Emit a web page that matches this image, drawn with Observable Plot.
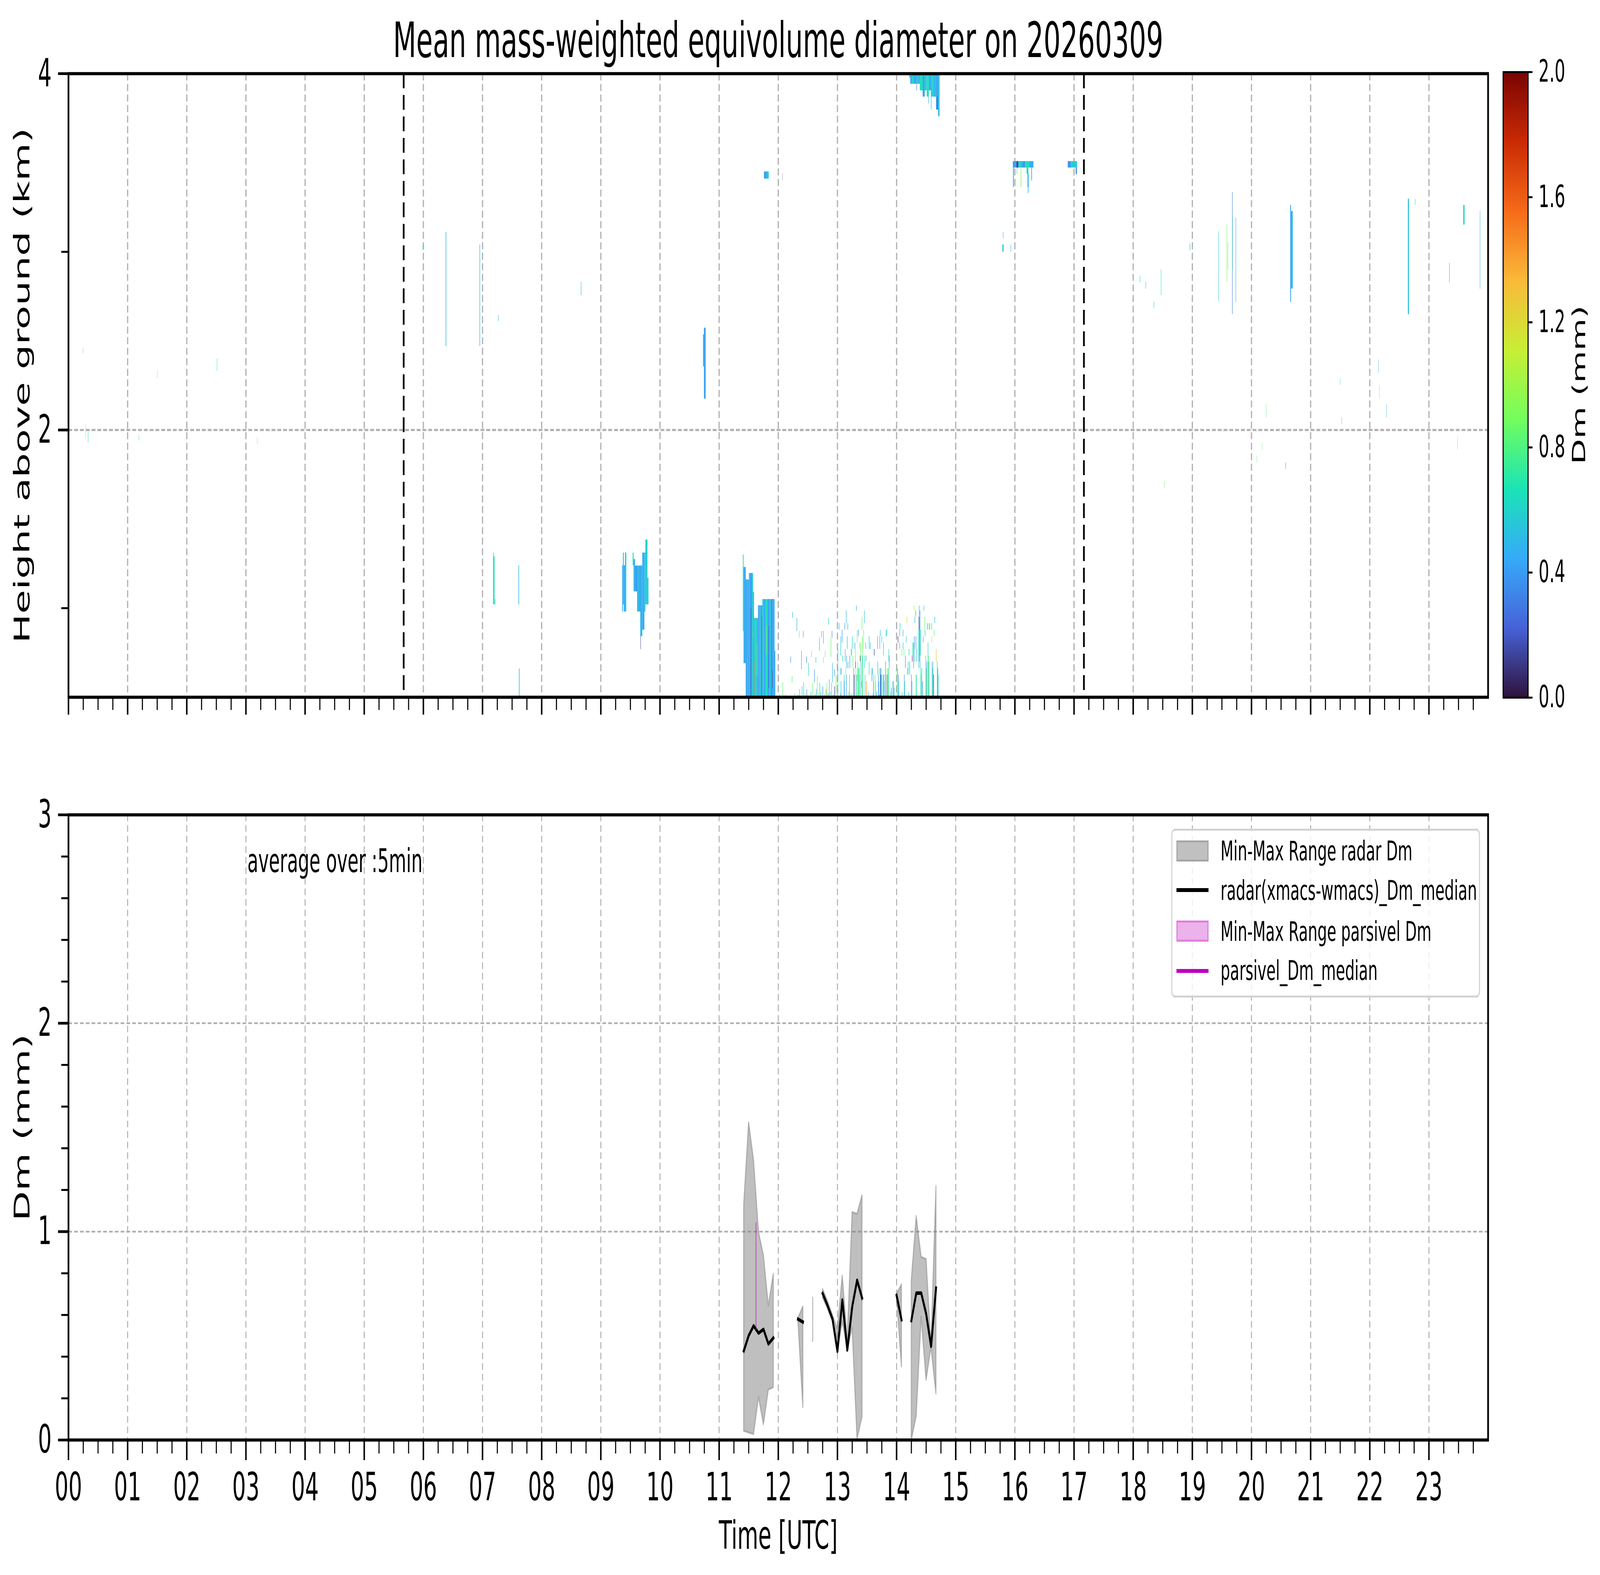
<!DOCTYPE html>
<html>
<head>
<meta charset="utf-8">
<script src="https://cdn.jsdelivr.net/npm/d3@7"></script>
<script src="https://cdn.jsdelivr.net/npm/@observablehq/plot@0.6"></script>
<style>
html, body { margin: 0; padding: 0; background: #fff; overflow: hidden; }
#wrap { position: relative; overflow: hidden; }
#root { position: absolute; left: 0; top: 0; width: 7442px; height: 4031px; overflow: hidden; font-family: "DejaVu Sans", sans-serif; color: #000; transform-origin: 0 0; }
.abs { position: absolute; }
#title { left: 318px; width: 6603px; top: 40px; font-size: 125px; line-height: 125px; text-align: center; white-space: nowrap; }
#legend { left: 5448px; top: 2121px; width: 1436px; height: 432px; box-sizing: border-box; border: 5px solid #d2d2d2; border-radius: 16px; background: rgba(255,255,255,0.8); }
.sw { position: absolute; box-sizing: border-box; }
.lt { position: absolute; font-size: 70px; line-height: 80px; white-space: nowrap; }
svg { overflow: visible; }
</style>
</head>
<body>
<div id="wrap">
<div id="root">
  <div id="topPlot" class="abs" style="left:0;top:150px"></div>
  <div id="cbarPlot" class="abs" style="left:6900px;top:150px"></div>
  <div id="botPlot" class="abs" style="left:0;top:2000px"></div>
  <div id="title" class="abs">Mean mass-weighted equivolume diameter on 20260309</div>
  <div id="legend" class="abs"></div>
  <div class="sw" style="left:5472px;top:2151px;width:149px;height:54px;background:#c0c0c0;border:5px solid #a6a6a6"></div>
  <div class="sw" style="left:5472px;top:2273px;width:149px;height:10px;background:#000"></div>
  <div class="sw" style="left:5472px;top:2356px;width:149px;height:54px;background:#ecb2ec;border:5px solid #df7ddf"></div>
  <div class="sw" style="left:5472px;top:2480px;width:149px;height:10px;background:#bf00bf"></div>
  <div class="lt" style="left:5677px;top:2138px">Min-Max Range radar Dm</div>
  <div class="lt" style="left:5677px;top:2239px">radar(xmacs-wmacs)_Dm_median</div>
  <div class="lt" style="left:5677px;top:2344px">Min-Max Range parsivel Dm</div>
  <div class="lt" style="left:5677px;top:2444px">parsivel_Dm_median</div>
</div>
</div>
<script>
// ---------------- tick values ----------------
const majorHours = [0,1,2,3,4,5,6,7,8,9,10,11,12,13,14,15,16,17,18,19,20,21,22,23];
const minorHours = majorHours.flatMap(h => [h + 0.25, h + 0.5, h + 0.75]);
const heightMajor = [2, 4];
const heightMinor = [1, 3];
const heightGrid = [2];
const dmMajor = [0, 1, 2, 3];
const dmMinor = [0.2,0.4,0.6,0.8,1.2,1.4,1.6,1.8,2.2,2.4,2.6,2.8];
const dmGrid = [1, 2];
const cbarTicks = [0, 0.4, 0.8, 1.2, 1.6, 2.0];
const eventTimes = [5.667, 17.167];

// ---------------- bottom panel: 5-min radar Dm statistics (hours UTC, mm) ----------------
const radarTime   = [11.417,11.5,11.583,11.667,11.75,11.833,11.917,12.0,12.333,12.417,12.5,12.583,12.667,12.75,12.833,12.917,13.0,13.083,13.167,13.25,13.333,13.417,13.5,14.0,14.083,14.167,14.25,14.333,14.417,14.5,14.583,14.667,14.75];
const radarMedian = [0.428,0.501,0.548,0.513,0.531,0.461,0.490,null,0.580,0.566,null,null,null,0.703,0.645,0.580,0.426,0.672,0.432,0.640,0.767,0.681,null,0.694,0.577,null,0.573,0.705,0.705,0.605,0.450,0.729,null];
const radarMax    = [1.128,1.524,1.343,0.998,0.886,0.645,0.797,null,0.585,0.640,null,0.683,null,0.724,0.667,0.600,0.531,0.789,0.480,1.093,1.085,1.174,null,0.700,0.746,null,0.765,1.074,0.878,0.868,0.450,1.217,null];
const radarMin    = [0.043,0.035,0.027,0.206,0.074,0.241,0.252,null,0.575,0.157,null,0.474,null,0.683,0.630,0.570,0.426,0.569,0.432,0.537,0.005,0.111,null,0.690,0.352,null,0.000,0.114,0.591,0.287,0.445,0.222,null];
const parsivelTime   = [11.625];
const parsivelMin    = [0.53];
const parsivelMax    = [1.04];
const parsivelMedian = [null];

// ---------------- top panel: radar Dm (time h, height km, Dm mm) ----------------
// [t0, t1, h0, h1, Dm]
const rainBlock = [
  [11.403,11.415,0.87,1.30,0.62],[11.415,11.452,0.69,1.23,0.46],[11.452,11.47,0.50,1.16,0.40],
  [11.47,11.49,0.50,1.16,0.55],[11.49,11.506,0.50,1.16,0.42],[11.506,11.53,0.50,1.196,0.50],
  [11.53,11.55,0.50,1.196,0.40],[11.55,11.575,0.50,1.196,0.56],[11.575,11.591,0.50,1.09,0.45],
  [11.591,11.61,0.50,0.944,0.58],[11.61,11.635,0.50,0.944,0.66],[11.635,11.659,0.50,0.944,0.48],
  [11.659,11.68,0.50,1.015,0.42],[11.68,11.705,0.50,1.015,0.55],[11.705,11.732,0.50,1.015,0.40],
  [11.732,11.76,0.50,1.05,0.58],[11.76,11.79,0.50,1.05,0.44],[11.79,11.82,0.50,1.05,0.64],
  [11.82,11.85,0.50,1.05,0.42],[11.85,11.88,0.50,1.05,0.54],[11.88,11.91,0.50,1.05,0.38],
  [11.91,11.939,0.50,1.05,0.48],[11.939,11.951,0.50,0.76,0.42],
  [11.535,11.54,0.50,1.00,0.14],[11.72,11.725,0.50,0.95,0.16],[11.84,11.845,0.55,0.90,0.12],
  [11.60,11.605,0.50,0.70,1.55],[11.57,11.575,0.83,0.87,1.25],[11.64,11.645,0.62,0.80,0.95],
  [11.80,11.805,0.74,0.90,1.0],[11.90,11.905,0.55,0.65,0.12]
];
const upperCells = [
  [14.216,14.234,3.976,4.0,0.50],[14.234,14.262,3.942,4.0,0.42],[14.262,14.29,3.942,4.0,0.60],
  [14.29,14.338,3.942,4.0,0.46],[14.338,14.373,3.942,4.0,0.55],[14.338,14.345,3.905,3.942,0.30],
  [14.373,14.394,3.942,4.0,0.40],[14.394,14.443,3.905,4.0,0.66],[14.443,14.477,3.87,4.0,0.42],
  [14.477,14.512,3.905,4.0,0.58],[14.512,14.547,3.87,4.0,0.66],[14.547,14.582,3.905,4.0,0.45],
  [14.582,14.617,3.87,4.0,0.58],[14.617,14.669,3.87,4.0,0.52],[14.669,14.704,3.797,4.0,0.42],
  [14.704,14.728,3.76,4.0,0.50],[14.54,14.547,3.832,3.87,0.38],[14.582,14.59,3.797,3.87,0.52],
  [14.686,14.695,3.797,3.87,0.15],
  [15.967,16.026,3.472,3.508,0.42],[15.97,15.985,3.362,3.472,0.55],[16.026,16.06,3.472,3.508,0.15],
  [16.035,16.04,3.435,3.472,0.36],[16.06,16.106,3.472,3.508,0.60],[16.10,16.11,3.362,3.472,0.95],
  [16.106,16.14,3.472,3.508,0.48],[16.14,16.175,3.472,3.508,0.38],[16.175,16.252,3.472,3.508,0.64],
  [16.20,16.23,3.435,3.472,0.64],[16.215,16.235,3.362,3.435,0.50],[16.22,16.23,3.328,3.362,0.50],
  [16.252,16.315,3.472,3.508,0.45],[16.28,16.29,3.40,3.472,0.36],
  [16.896,16.948,3.472,3.508,0.38],[16.948,17.052,3.472,3.508,0.58],[17.03,17.05,3.435,3.472,0.36],
  [15.80,15.806,3.075,3.11,0.42],[15.79,15.81,3.0,3.04,0.50],[15.93,15.937,3.0,3.04,0.52],
  [12.07,12.073,3.40,3.44,0.15],[11.76,11.80,3.41,3.45,0.40],[11.80,11.84,3.41,3.45,0.55],
  [0.246,0.252,2.43,2.46,0.85],[0.29,0.295,1.95,2.03,0.85],[0.33,0.336,1.93,1.99,0.64],
  [1.19,1.195,1.94,1.97,0.64],[1.50,1.505,2.29,2.33,0.85],[2.51,2.516,2.33,2.40,0.75],
  [3.19,3.195,1.92,1.96,0.85],
  [5.99,5.996,3.005,3.04,0.60],[6.378,6.388,2.47,3.11,0.52],[6.952,6.96,2.47,3.04,0.50],
  [7.265,7.272,2.61,2.645,0.50],[8.665,8.672,2.755,2.83,0.48],
  [10.729,10.745,2.356,2.536,0.50],[10.745,10.774,2.175,2.573,0.42],
  [7.182,7.192,1.02,1.311,0.55],[7.192,7.205,1.02,1.29,0.66],[7.21,7.217,1.02,1.05,0.55],
  [7.61,7.62,1.02,1.238,0.50],[7.618,7.628,0.50,0.66,0.50],
  [9.362,9.375,0.98,1.24,0.42],[9.375,9.39,1.02,1.311,0.55],[9.39,9.41,0.98,1.24,0.45],
  [9.41,9.432,0.98,1.311,0.58],[9.54,9.555,1.24,1.311,0.64],[9.555,9.58,1.093,1.275,0.48],
  [9.58,9.615,1.093,1.238,0.40],[9.615,9.651,0.98,1.238,0.50],[9.651,9.668,0.98,1.238,0.38],
  [9.668,9.703,0.842,1.238,0.50],[9.672,9.678,0.769,0.842,0.12],[9.703,9.738,0.878,1.311,0.44],
  [9.738,9.755,0.98,1.311,0.54],[9.755,9.79,1.02,1.384,0.58],[9.79,9.807,1.02,1.17,0.50],
  [18.116,18.122,2.827,2.865,0.50],[18.211,18.217,2.791,2.831,0.50],[18.349,18.355,2.683,2.72,0.50],
  [18.47,18.476,2.756,2.90,0.68],[18.526,18.532,1.673,1.71,0.85],[18.958,18.966,3.008,3.045,0.55],
  [19.441,19.447,2.72,3.115,0.58],[19.583,19.59,2.83,3.152,0.92],[19.60,19.606,2.90,3.05,0.85],
  [19.675,19.682,2.649,3.335,0.32],[19.682,19.686,2.90,3.20,0.62],[19.734,19.74,2.718,3.19,0.42],
  [20.088,20.093,1.817,1.855,0.85],[20.179,20.184,1.889,1.927,0.88],[20.248,20.253,2.069,2.145,0.85],
  [20.576,20.581,1.78,1.817,0.30],[20.657,20.67,2.718,3.262,0.42],[20.67,20.70,2.793,3.228,0.52],
  [21.499,21.504,2.252,2.29,0.62],[21.525,21.53,2.031,2.069,0.62],[22.146,22.151,2.321,2.395,0.48],
  [22.163,22.168,2.176,2.252,0.85],[22.284,22.289,2.069,2.144,0.50],[22.646,22.664,2.649,3.297,0.52],
  [22.767,22.772,3.262,3.297,0.42],[23.345,23.352,2.827,2.937,0.54],[23.483,23.488,1.889,1.962,0.85],
  [23.582,23.604,3.152,3.262,0.60],[23.863,23.869,2.791,3.228,0.50]
];
// thin radar columns (one gate wide): [t, h0, h1, Dm]
const gateDt = 0.008;
const specklesEarly = [
  [12.073,0.500,0.582,0.85],[12.207,0.692,0.728,0.38],[12.239,0.944,0.979,0.52],[12.231,0.582,0.618,0.80],
  [12.312,0.871,0.944,0.52],[12.353,0.834,0.871,0.85],[12.390,0.655,0.761,0.52],[12.421,0.834,0.871,0.52],
  [12.426,0.500,0.582,0.64],[12.475,0.692,0.728,0.28],[12.511,0.618,0.692,0.64],[12.560,0.724,0.761,0.85],
  [12.609,0.582,0.655,0.38],[12.633,0.692,0.724,0.64],[12.657,0.500,0.618,0.85],[12.694,0.761,0.834,0.52],
  [12.730,0.834,0.871,0.52],[12.760,0.692,0.724,0.85],[12.762,0.801,0.871,0.52],[12.791,0.724,0.761,0.85],
  [12.804,0.500,0.545,1.50],[12.845,0.907,0.944,0.64],[12.889,0.724,0.834,0.85],[12.906,0.834,0.871,0.38],
  [12.913,0.582,0.692,0.52],[12.950,0.618,0.655,0.38],[12.974,0.500,0.618,0.85],
  [12.02,0.500,0.515,0.64],[12.12,0.500,0.512,0.52],[12.27,0.500,0.520,0.85],[12.33,0.500,0.515,0.64],
  [12.45,0.500,0.520,0.85],[12.50,0.500,0.512,0.52],[12.55,0.500,0.530,0.64],[12.62,0.500,0.515,0.52],
  [12.68,0.500,0.520,0.85],[12.72,0.500,0.530,0.64],[12.78,0.500,0.515,0.52],[12.84,0.500,0.520,0.38],
  [12.88,0.500,0.530,0.64],[12.93,0.500,0.512,0.15],
  [12.36,0.500,0.545,0.52],[12.40,0.500,0.560,0.64],[12.48,0.500,0.545,0.40],[12.58,0.500,0.580,0.85],
  [12.64,0.500,0.545,0.52],[12.70,0.500,0.580,0.64],[12.75,0.500,0.560,0.40],[12.82,0.500,0.580,0.85],
  [12.86,0.500,0.600,0.52],[12.90,0.500,0.580,0.64],[12.95,0.500,0.560,0.12]
];
const specklesLate = [
  [13.004,0.50,0.770,0.60],[13.027,0.878,0.915,0.52],[13.055,0.733,0.841,0.52],[13.055,0.626,0.662,0.52],
  [13.061,0.626,0.662,0.52],[13.058,0.50,0.589,0.52],[13.077,0.806,0.878,0.40],[13.083,0.699,0.733,0.64],
  [13.110,0.50,0.626,0.64],[13.116,0.50,0.589,0.40],[13.122,0.878,0.915,0.40],[13.130,0.699,0.770,0.52],
  [13.138,0.626,0.662,0.85],[13.147,0.915,0.986,0.52],[13.152,0.662,0.733,0.52],[13.152,0.50,0.626,0.40],
  [13.164,0.770,0.841,0.52],[13.173,0.878,0.915,0.52],[13.176,0.662,0.699,0.40],[13.201,0.50,0.626,0.64],
  [13.207,0.662,0.733,0.40],[13.231,0.733,0.770,0.64],[13.237,0.733,0.770,0.64],[13.249,0.770,0.841,0.64],
  [13.259,0.662,0.733,0.85],[13.273,0.50,0.662,0.40],[13.283,0.50,0.626,0.12],[13.293,0.770,0.806,0.40],
  [13.300,0.699,0.770,0.85],[13.304,0.662,0.699,0.12],[13.310,0.50,0.662,0.85],[13.318,0.986,1.013,0.40],
  [13.319,0.50,0.626,0.64],[13.332,0.806,0.878,0.85],[13.334,0.589,0.626,1.25],[13.340,0.50,0.699,0.85],
  [13.346,0.50,0.662,0.64],[13.352,0.841,0.878,0.40],[13.358,0.50,0.662,0.85],[13.368,0.50,0.662,0.64],
  [13.373,0.770,0.806,0.85],[13.376,0.50,0.626,0.85],[13.382,0.699,0.733,0.12],[13.392,0.699,0.806,0.85],
  [13.397,0.50,0.699,0.40],[13.404,0.553,0.589,1.45],[13.413,0.878,0.951,0.85],[13.419,0.50,0.841,0.85],
  [13.425,0.50,0.733,0.64],[13.433,0.770,0.841,1.00],[13.441,0.841,0.878,0.85],[13.453,0.915,0.986,0.52],
  [13.458,0.662,0.733,0.64],[13.465,0.50,0.626,0.64],[13.475,0.770,0.806,0.52],[13.482,0.699,0.733,0.52],
  [13.489,0.50,0.589,1.45],
  [13.534,0.770,0.841,0.52],[13.534,0.626,0.699,0.64],[13.555,0.770,0.806,0.52],[13.580,0.589,0.662,0.40],
  [13.595,0.626,0.662,0.52],[13.607,0.50,0.626,0.64],[13.615,0.50,0.589,0.85],[13.620,0.733,0.770,0.12],
  [13.635,0.589,0.626,0.85],[13.643,0.50,0.589,0.52],[13.676,0.770,0.841,0.45],[13.679,0.626,0.699,0.52],
  [13.691,0.50,0.626,0.40],[13.697,0.50,0.589,0.40],[13.704,0.626,0.662,0.85],[13.714,0.770,0.841,0.52],
  [13.722,0.841,0.878,0.52],[13.722,0.50,0.662,0.40],[13.728,0.50,0.626,0.12],[13.734,0.50,0.662,0.40],
  [13.741,0.50,0.626,0.64],[13.748,0.806,0.841,0.64],[13.758,0.50,0.626,0.64],[13.776,0.733,0.806,0.52],
  [13.782,0.50,0.626,0.12],[13.788,0.50,0.589,0.40],[13.809,0.626,0.699,0.40],[13.816,0.50,0.626,0.12],
  [13.821,0.841,0.878,0.64],[13.827,0.841,0.878,0.64],[13.837,0.50,0.662,0.85],[13.845,0.50,0.626,0.40],
  [13.855,0.50,0.662,0.64],[13.867,0.699,0.770,0.64],[13.867,0.50,0.662,0.85],[13.873,0.662,0.733,0.40],
  [13.910,0.50,0.553,0.40],[13.934,0.50,0.589,0.52],[13.946,0.50,0.589,0.52],[13.958,0.50,0.553,0.52],
  [14.006,0.50,0.662,0.85],[14.015,0.50,0.662,0.64],[14.022,0.806,0.841,0.12],[14.031,0.50,0.626,0.40],
  [14.037,0.50,0.589,0.64],[14.049,0.841,0.878,0.52],[14.049,0.770,0.806,0.52],[14.057,0.878,0.915,0.64],
  [14.088,0.733,0.770,0.85],[14.107,0.770,0.806,0.52],[14.107,0.841,0.878,0.52],[14.122,0.733,0.770,0.85],
  [14.128,0.50,0.626,0.40],[14.136,0.50,0.589,0.64],[14.146,0.662,0.733,0.40],[14.160,0.806,0.841,0.64],
  [14.173,0.915,0.951,1.05],[14.182,0.626,0.662,0.64],[14.194,0.626,0.699,0.64],[14.209,0.733,0.770,0.64],
  [14.219,0.626,0.699,0.40],[14.249,0.50,0.626,0.40],[14.257,0.50,0.589,0.52],[14.263,0.699,0.733,0.12],
  [14.267,0.733,0.806,0.64],[14.285,0.662,0.806,0.40],[14.294,0.986,1.013,1.00],[14.294,0.699,0.806,0.64],
  [14.297,0.770,0.841,0.40],[14.307,0.915,0.951,0.52],[14.322,0.951,0.986,0.52],[14.325,0.770,0.841,0.40],
  [14.325,0.50,0.626,0.85],[14.334,0.50,0.626,0.64],[14.340,0.699,0.770,0.40],[14.370,0.662,0.878,0.64],
  [14.376,0.878,0.951,0.12],[14.382,0.699,1.013,0.52],[14.388,0.733,0.915,0.85],[14.394,0.662,0.986,0.40],
  [14.400,0.733,0.878,0.64],[14.406,0.50,0.662,0.64],[14.415,0.50,0.626,0.85],[14.425,0.50,0.662,0.64],
  [14.437,0.50,0.589,0.40],[14.449,0.806,0.841,0.52],[14.461,0.986,1.013,0.64],[14.473,0.878,0.951,0.85],
  [14.479,0.841,0.878,0.64],[14.491,0.50,0.733,0.64],[14.500,0.50,0.662,0.85],[14.509,0.50,0.699,0.40],
  [14.519,0.878,0.915,0.40],[14.529,0.50,0.806,0.64],[14.536,0.50,0.733,0.85],[14.546,0.878,0.915,0.85],
  [14.546,0.50,0.699,0.40],[14.558,0.878,0.915,0.64],[14.592,0.878,0.915,0.64],[14.592,0.806,0.841,1.05],
  [14.600,0.50,0.699,0.40],[14.609,0.50,0.662,0.64],[14.618,0.50,0.699,0.85],[14.624,0.50,0.626,0.12],
  [14.633,0.841,0.878,0.85],[14.643,0.915,0.951,0.52],[14.667,0.699,0.770,1.25],[14.685,0.50,0.699,0.64],
  [14.694,0.50,0.662,0.40],[14.703,0.50,0.626,0.64],
  [13.00,0.500,0.530,0.52],[13.05,0.500,0.520,0.64],[13.19,0.500,0.530,0.85],[13.23,0.500,0.520,0.64],
  [13.52,0.500,0.530,0.52],[13.60,0.500,0.520,0.64],[13.66,0.500,0.530,0.52],[13.71,0.500,0.515,0.38],
  [13.78,0.500,0.530,0.64],[13.90,0.500,0.530,0.64],[14.09,0.500,0.530,0.64],[14.20,0.500,0.530,0.52]
];

// ---------------- styling ----------------
const turboStops = ["#30123b","#4662d7","#36aaf9","#1ae4b6","#72fe5e","#c8ef34","#faba39","#f66b19","#ca2a04","#7a0403"];
const colorScale = {type: "linear", domain: [0, 2], interpolate: d3.piecewise(d3.interpolateRgb, turboStops), clamp: true};
const FONT = "DejaVu Sans";
const fmtHour = d => String(d).padStart(2, "0");
const fmtInt = d => String(d);
const blank = () => "";

// map the 7442×4031 design onto the actual window
(function fit() {
  const W = window.innerWidth || 7442, H = window.innerHeight || 4031;
  const sx = W / 7442, sy = H / 4031;
  document.getElementById("root").style.transform = `scale(${sx}, ${sy})`;
  const wrap = document.getElementById("wrap");
  wrap.style.width = W + "px";
  wrap.style.height = H + "px";
})();

// ---------------- top panel ----------------
const cells = rainBlock.concat(upperCells);
const speckles = specklesEarly.concat(specklesLate);
const topChart = Plot.plot({
  width: 6960, height: 1710,
  marginLeft: 318, marginRight: 39, marginTop: 38, marginBottom: 76,
  style: {fontFamily: FONT, background: "transparent", color: "black"},
  x: {domain: [0, 24]},
  y: {domain: [0.5, 4]},
  color: colorScale,
  marks: [
    Plot.gridX({ticks: majorHours, stroke: "#b0b0b0", strokeOpacity: 1, strokeWidth: 5.5, strokeDasharray: "18,9"}),
    Plot.gridY({ticks: heightGrid, stroke: "#b0b0b0", strokeOpacity: 1, strokeWidth: 5.5, strokeDasharray: "18,9"}),
    Plot.rect(cells, {x1: d => d[0], x2: d => d[1], y1: d => d[2], y2: d => d[3], fill: d => d[4], clip: true}),
    Plot.rect(speckles, {x1: d => d[0], x2: d => d[0] + gateDt, y1: d => d[1], y2: d => d[2], fill: d => d[3], clip: true}),
    Plot.ruleX(eventTimes, {stroke: "black", strokeWidth: 8, strokeDasharray: "38,17"}),
    Plot.frame({stroke: "black", strokeWidth: 8}),
    Plot.axisX({ticks: majorHours, tickSize: 45, tickFormat: blank, strokeWidth: 7, label: null}),
    Plot.axisX({ticks: minorHours, tickSize: 33, tickFormat: blank, strokeWidth: 5, label: null}),
    Plot.axisY({ticks: heightMajor, tickSize: 48, tickPadding: 30, tickFormat: fmtInt, fontSize: 100, strokeWidth: 7, label: null}),
    Plot.axisY({ticks: heightMinor, tickSize: 33, tickFormat: blank, strokeWidth: 5, label: null}),
    Plot.text(["Height above ground (km)"], {text: d => d, frameAnchor: "left", dx: -214, rotate: -90, textAnchor: "middle", lineAnchor: "middle", fontSize: 100})
  ]
});
document.getElementById("topPlot").appendChild(topChart);

// ---------------- colorbar ----------------
function makeCbar(body) {
  return Plot.plot({
    width: 542, height: 1710,
    marginLeft: 91, marginRight: 335, marginTop: 34, marginBottom: 75,
    style: {fontFamily: FONT, background: "transparent", color: "black"},
    x: {domain: [0, 1], axis: null},
    y: {domain: [0, 2], axis: null},
    color: colorScale,
    marks: [
      body,
      Plot.frame({stroke: "black", strokeWidth: 5}),
      Plot.axisY({anchor: "right", ticks: cbarTicks, tickFormat: d3.format(".1f"), tickSize: 20, tickPadding: 29, fontSize: 78, strokeWidth: 5, label: null}),
      Plot.text(["Dm (mm)"], {text: d => d, frameAnchor: "right", dx: 238, rotate: -90, textAnchor: "middle", lineAnchor: "middle", fontSize: 85})
    ]
  });
}
let cbarChart;
try {
  cbarChart = makeCbar(Plot.raster({x1: 0, x2: 1, y1: 0, y2: 2, width: 1, height: 600, fill: (x, y) => y, imageRendering: "auto"}));
} catch (e) {
  const bands = d3.range(0, 2, 0.005);
  cbarChart = makeCbar(Plot.rect(bands, {x1: 0, x2: 1, y1: d => d, y2: d => d + 0.0051, fill: d => d + 0.0025}));
}
document.getElementById("cbarPlot").appendChild(cbarChart);

// ---------------- bottom panel ----------------
const radar = radarTime.map((t, i) => ({t, med: radarMedian[i], lo: radarMin[i], hi: radarMax[i]}));
const parsivel = parsivelTime.map((t, i) => ({t, med: parsivelMedian[i], lo: parsivelMin[i], hi: parsivelMax[i]}));
const botChart = Plot.plot({
  width: 6960, height: 2031,
  marginLeft: 318, marginRight: 39, marginTop: 85, marginBottom: 346,
  style: {fontFamily: FONT, background: "transparent", color: "black"},
  x: {domain: [0, 24]},
  y: {domain: [0, 3]},
  marks: [
    Plot.gridX({ticks: majorHours, stroke: "#b0b0b0", strokeOpacity: 1, strokeWidth: 4.5, strokeDasharray: "17,10"}),
    Plot.gridY({ticks: dmGrid, stroke: "#b0b0b0", strokeOpacity: 1, strokeWidth: 4.5, strokeDasharray: "17,10"}),
    Plot.areaY(radar, {x: "t", y1: "lo", y2: "hi", fill: "gray", fillOpacity: 0.5, stroke: "gray", strokeOpacity: 0.5, strokeWidth: 5}),
    Plot.lineY(radar, {x: "t", y: "med", stroke: "black", strokeWidth: 9, strokeLinecap: "square", strokeLinejoin: "round"}),
    Plot.areaY(parsivel, {x: "t", y1: "lo", y2: "hi", fill: "#bf00bf", fillOpacity: 0.3, stroke: "#bf00bf", strokeOpacity: 0.45, strokeWidth: 5}),
    Plot.lineY(parsivel, {x: "t", y: "med", stroke: "#bf00bf", strokeWidth: 9}),
    Plot.frame({stroke: "black", strokeWidth: 8}),
    Plot.axisX({ticks: majorHours, tickSize: 52, tickPadding: 31, tickFormat: fmtHour, fontSize: 100, strokeWidth: 7, label: null}),
    Plot.axisX({ticks: minorHours, tickSize: 35, tickFormat: blank, strokeWidth: 5, label: null}),
    Plot.axisY({ticks: dmMajor, tickSize: 48, tickPadding: 30, tickFormat: fmtInt, fontSize: 100, strokeWidth: 7, label: null}),
    Plot.axisY({ticks: dmMinor, tickSize: 33, tickFormat: blank, strokeWidth: 5, label: null}),
    Plot.text(["average over :5min"], {text: d => d, frameAnchor: "top-left", dx: 832, dy: 146, lineAnchor: "bottom", textAnchor: "start", fontSize: 83}),
    Plot.text(["Dm (mm)"], {text: d => d, frameAnchor: "left", dx: -214, rotate: -90, textAnchor: "middle", lineAnchor: "middle", fontSize: 100}),
    Plot.text(["Time [UTC]"], {text: d => d, frameAnchor: "bottom", dy: 246, textAnchor: "middle", lineAnchor: "middle", fontSize: 100})
  ]
});
document.getElementById("botPlot").appendChild(botChart);
</script>
</body>
</html>
